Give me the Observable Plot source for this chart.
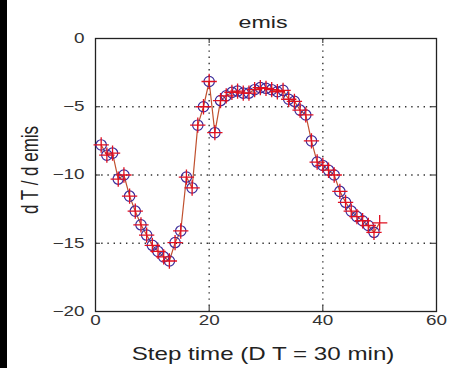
<!DOCTYPE html>
<html>
<head>
<meta charset="utf-8">
<script src="https://cdn.jsdelivr.net/npm/d3@7"></script>
<script src="https://cdn.jsdelivr.net/npm/@observablehq/plot@0.6"></script>
<style>
  html, body { margin: 0; padding: 0; background: #fff; }
  #wrap { position: relative; width: 452px; height: 368px; overflow: hidden; background: #fff; }
  #wrap svg { position: absolute; left: 0; top: 0; }
  #strip { position: absolute; left: 0; top: 0; width: 7px; height: 368px; background: #000; z-index: 5; }
</style>
</head>
<body>
<div id="wrap"></div>
<script>
// Step index (t) and dT/demis values
const steps = [1,2,3,4,5,6,7,8,9,10,11,12,13,14,15,16,17,18,19,20,21,22,23,24,25,26,27,28,29,30,31,32,33,34,35,36,37,38,39,40,41,42,43,44,45,46,47,48,49];
const circleValues = [-7.8,-8.55,-8.4,-10.3,-10.0,-11.55,-12.65,-13.65,-14.4,-15.15,-15.6,-16.0,-16.3,-14.95,-14.1,-10.15,-10.95,-6.35,-5.0,-3.15,-6.9,-4.55,-4.2,-3.95,-3.85,-4.0,-4.0,-3.75,-3.6,-3.65,-3.75,-3.9,-3.8,-4.45,-4.6,-5.25,-5.6,-7.5,-9.05,-9.3,-9.65,-10.0,-11.2,-12.0,-12.65,-13.05,-13.35,-13.7,-14.2];
const plusSteps = [...steps, 50];
const plusValues = [...circleValues, -13.5];
const xTicks = [0, 20, 40, 60];
const yTicks = [0, -5, -10, -15, -20];
const gridX = [20, 40];
const gridY = [-5, -10, -15];
const titleText = "emis";
const xLabel = "Step time (D T = 30 min)";
const yLabel = "d T / d emis";

const circles = steps.map((t, i) => ({t, v: circleValues[i]}));
const pluses = plusSteps.map((t, i) => ({t, v: plusValues[i]}));
const fmt = d => d < 0 ? "\u2212" + Math.abs(d) : String(d);

const W = 452, H = 368, mL = 95, mR = 16, mT = 38, mB = 57;
const fh = H - mT - mB, fw = W - mL - mR, tk = 5;
const font = "Liberation Sans, Arial, sans-serif";

const chart = Plot.plot({
  width: W, height: H,
  marginLeft: mL, marginRight: mR, marginTop: mT, marginBottom: mB,
  style: {fontFamily: font, fontSize: "14px", color: "#222", background: "transparent"},
  x: {domain: [0, 60], axis: null},
  y: {domain: [-20, 0], axis: null},
  marks: [
    Plot.ruleX(gridX, {x: d => d, stroke: "#333", strokeWidth: 1.4, strokeDasharray: "1.4,4.8"}),
    Plot.ruleY(gridY, {y: d => d, stroke: "#333", strokeWidth: 1.4, strokeDasharray: "1.4,4.8"}),
    Plot.tickX(xTicks, {x: d => d, insetTop: fh - tk, stroke: "#222"}),
    Plot.tickX(xTicks, {x: d => d, insetBottom: fh - tk, stroke: "#222"}),
    Plot.tickY(yTicks, {y: d => d, insetRight: fw - tk, stroke: "#222"}),
    Plot.tickY(yTicks, {y: d => d, insetLeft: fw - tk, stroke: "#222"}),
    Plot.frame({stroke: "#222", strokeWidth: 1.3}),
    Plot.text(xTicks, {x: d => d, frameAnchor: "bottom", lineAnchor: "top", dy: 4, text: fmt, fontSize: 14, fill: "#333", className: "sx-tick"}),
    Plot.text(yTicks, {y: d => d, frameAnchor: "left", textAnchor: "end", dx: -11, text: fmt, fontSize: 14, fill: "#333", className: "sx-tick"}),
    Plot.line(pluses, {x: "t", y: "v", stroke: "#c0502e", strokeWidth: 1.2}),
    Plot.dot(circles, {x: "t", y: "v", r: 5.2, stroke: "#3a2a9a", strokeWidth: 1.2, fill: "none"}),
    Plot.dot(pluses, {x: "t", y: "v", symbol: "plus", r: 5, stroke: "#e01020", strokeWidth: 1.3}),
    Plot.text([titleText], {frameAnchor: "top", lineAnchor: "bottom", dx: -3, dy: -11, text: d => d, fontSize: 16, fill: "#222", className: "sx-title"}),
    Plot.text([xLabel], {frameAnchor: "bottom", lineAnchor: "bottom", dx: -3, dy: 48, text: d => d, fontSize: 17.5, fill: "#222", className: "sx-xlabel"}),
    Plot.text([yLabel], {frameAnchor: "left", dx: -65.5, dy: 39, rotate: -90, text: d => d, fontSize: 17, fill: "#222", className: "sx-ylabel"})
  ]
});
document.getElementById("wrap").appendChild(chart);
const strip = document.createElement("div");
strip.id = "strip";
document.getElementById("wrap").appendChild(strip);

// Horizontal stretch of the text, as in the reference's rendering
function addScale(t, sx, sy) {
  const tr = t.getAttribute("transform");
  if (tr) {
    t.setAttribute("transform", tr + ` scale(${sx},${sy})`);
  } else {
    const x = +(t.getAttribute("x") || 0), y = +(t.getAttribute("y") || 0);
    t.setAttribute("transform", `translate(${x},${y}) scale(${sx},${sy}) translate(${-x},${-y})`);
  }
}
chart.querySelectorAll(".sx-tick text").forEach(t => addScale(t, 1.35, 1));
chart.querySelectorAll(".sx-title text").forEach(t => addScale(t, 1.45, 1));
chart.querySelectorAll(".sx-xlabel text").forEach(t => addScale(t, 1.38, 1));
chart.querySelectorAll(".sx-ylabel text").forEach(t => addScale(t, 1, 1.45));
</script>
</body>
</html>
